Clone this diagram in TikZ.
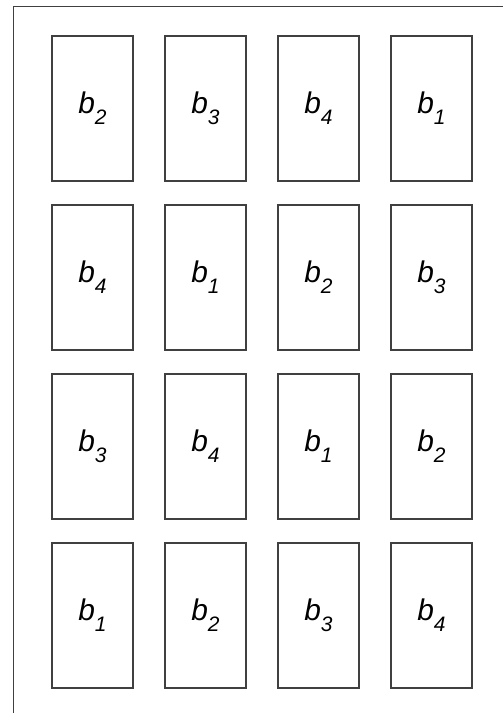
\documentclass[tikz,border=0pt]{standalone}
\usepackage{fontspec}
\setmainfont{Liberation Sans}
\newcommand{\blabel}[1]{\textit{b}\raisebox{-11bp}{\fontsize{21}{21}\selectfont\textit{#1}}}
\begin{document}
\begin{tikzpicture}[x=1bp,y=-1bp,
  plot/.style={draw=black!75,line width=1.1bp,minimum width=81bp,minimum height=145bp,
    inner sep=0pt,font=\fontsize{30}{30}\selectfont}]
\useasboundingbox (0,0) rectangle (503,713);
\draw[black!75,line width=1.4bp] (13.5,713) -- (13.5,6.5) -- (503,6.5);

\node[plot] (p11) at (92.5,108.5) {\blabel{2}};
\node[plot] (p12) at (205.5,108.5) {\blabel{3}};
\node[plot] (p13) at (318.5,108.5) {\blabel{4}};
\node[plot] (p14) at (431.5,108.5) {\blabel{1}};

\node[plot] (p21) at (92.5,277.5) {\blabel{4}};
\node[plot] (p22) at (205.5,277.5) {\blabel{1}};
\node[plot] (p23) at (318.5,277.5) {\blabel{2}};
\node[plot] (p24) at (431.5,277.5) {\blabel{3}};

\node[plot] (p31) at (92.5,446.5) {\blabel{3}};
\node[plot] (p32) at (205.5,446.5) {\blabel{4}};
\node[plot] (p33) at (318.5,446.5) {\blabel{1}};
\node[plot] (p34) at (431.5,446.5) {\blabel{2}};

\node[plot] (p41) at (92.5,615.5) {\blabel{1}};
\node[plot] (p42) at (205.5,615.5) {\blabel{2}};
\node[plot] (p43) at (318.5,615.5) {\blabel{3}};
\node[plot] (p44) at (431.5,615.5) {\blabel{4}};
\end{tikzpicture}
\end{document}
